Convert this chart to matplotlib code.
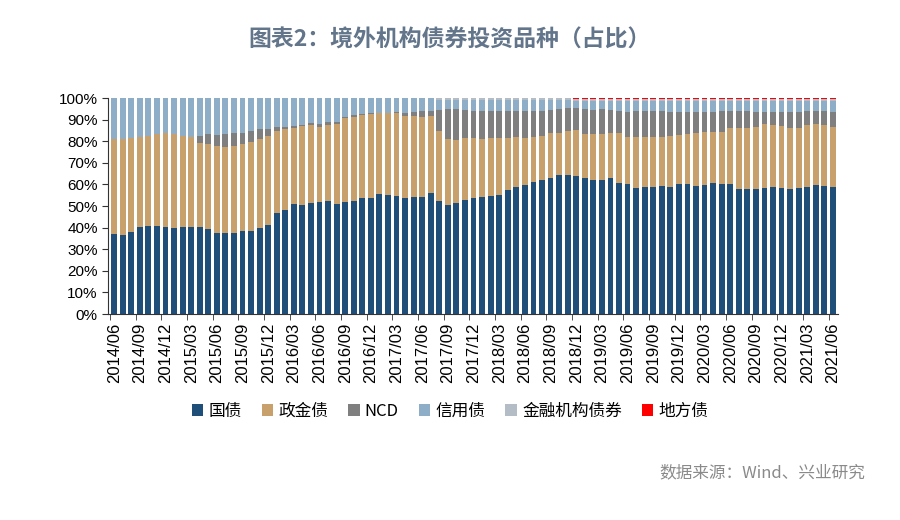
import matplotlib
matplotlib.use('Agg')
import matplotlib.pyplot as plt
import numpy as np

plt.rcParams['font.family'] = ['Noto Sans CJK SC', 'DejaVu Sans']

# 月份 2014/06 - 2021/06
months = [f'{y}/{m:02d}' for y in range(2014, 2022) for m in range(1, 13)]
months = months[months.index('2014/06'):months.index('2021/06') + 1]

# 各品种占比（%）
gz = [36.9, 36.4, 38.1, 40.1, 40.7, 40.9, 40.4, 40.0, 40.1, 40.4,
      40.1, 39.5, 37.3, 37.7, 37.7, 38.4, 38.4, 39.7, 41.2, 46.6,
      48.1, 50.9, 50.6, 51.5, 51.9, 52.2, 51.1, 52.0, 52.3, 53.5,
      53.7, 55.4, 54.9, 54.6, 53.9, 54.0, 54.3, 56.2, 52.3, 50.3,
      51.5, 52.8, 53.5, 54.0, 54.6, 55.1, 57.4, 58.6, 59.6, 61.3,
      62.0, 63.1, 64.5, 64.5, 63.9, 62.8, 62.0, 62.0, 63.1, 60.8,
      60.0, 58.3, 59.0, 59.0, 59.4, 59.0, 60.0, 60.0, 59.4, 59.9,
      60.8, 60.2, 60.2, 58.0, 57.7, 57.7, 58.5, 58.6, 58.3, 57.9,
      58.2, 59.0, 59.7, 59.3, 58.6]
zjz = [44.0, 44.6, 43.4, 42.0, 41.9, 42.3, 43.6, 43.2, 42.5, 41.7,
       38.9, 39.0, 40.5, 39.8, 40.1, 40.1, 41.4, 41.3, 41.2, 38.3,
       37.4, 35.4, 36.4, 35.8, 34.5, 35.3, 36.7, 38.6, 39.1, 38.5,
       38.7, 37.5, 38.0, 38.3, 37.9, 37.8, 37.1, 35.5, 32.6, 30.6,
       29.1, 28.7, 28.1, 26.9, 26.7, 26.2, 24.2, 23.5, 22.0, 20.8,
       20.4, 20.5, 19.5, 20.4, 21.3, 20.4, 21.2, 21.2, 20.5, 22.8,
       22.1, 23.5, 23.1, 23.1, 22.7, 23.4, 22.9, 23.2, 24.2, 24.3,
       23.6, 24.2, 25.8, 28.3, 28.6, 29.0, 29.3, 28.9, 28.7, 28.4,
       28.1, 28.5, 28.1, 28.2, 28.1]
ncd = [0.0, 0.0, 0.0, 0.0, 0.0, 0.0, 0.0, 0.0, 0.0, 0.0,
       3.4, 4.7, 5.1, 5.7, 5.8, 5.5, 5.1, 4.5, 3.1, 1.5,
       0.9, 0.7, 0.5, 1.0, 1.4, 1.2, 1.2, 0.4, 0.7, 0.6,
       0.5, 0.3, 0.3, 0.5, 1.4, 1.7, 2.7, 2.4, 9.5, 13.9,
       14.2, 13.0, 12.5, 13.2, 12.8, 12.8, 12.5, 12.0, 12.5, 12.0,
       11.7, 10.8, 10.8, 10.3, 10.3, 11.8, 11.2, 11.6, 10.8, 10.4,
       11.6, 12.2, 11.9, 11.9, 11.9, 11.3, 10.8, 10.5, 10.1, 9.5,
       9.3, 9.6, 8.0, 7.8, 7.8, 7.0, 5.9, 6.2, 6.7, 7.4,
       7.4, 6.6, 6.3, 6.6, 7.0]
xyz = [19.1, 19.0, 18.5, 17.9, 17.4, 16.8, 16.0, 16.8, 17.4, 17.9,
       17.6, 16.8, 17.1, 16.8, 16.4, 16.0, 15.1, 14.5, 14.5, 13.6,
       13.6, 13.0, 12.5, 11.7, 12.2, 11.3, 11.0, 9.0, 7.9, 7.4,
       7.1, 6.8, 6.8, 6.6, 6.8, 6.5, 5.9, 5.9, 4.6, 4.2,
       4.2, 4.5, 4.9, 4.9, 4.9, 4.9, 4.9, 4.9, 4.9, 4.9,
       4.9, 4.6, 4.2, 3.8, 3.0, 3.5, 4.1, 3.7, 4.1, 4.5,
       4.8, 4.5, 4.5, 4.5, 4.5, 4.8, 4.8, 4.8, 4.8, 4.8,
       4.8, 4.5, 4.5, 4.4, 4.4, 4.8, 4.8, 4.8, 4.8, 4.8,
       4.8, 4.4, 4.4, 4.4, 4.8]
jrz = [0.0] * 38 + [1.0] * 47
dfz = [0.0] * 54 + [0.5] * 31

series = [('国债', gz, '#1f4e79'),
          ('政金债', zjz, '#c8a06c'),
          ('NCD', ncd, '#7f7f7f'),
          ('信用债', xyz, '#8eaec8'),
          ('金融机构债券', jrz, '#b4bcc6'),
          ('地方债', dfz, '#ff0000')]

fig = plt.figure(figsize=(9, 5.2), dpi=100)
ax = fig.add_axes([107.5 / 900, 1 - 314 / 520, (838 - 107.5) / 900, (314 - 98) / 520])

x = np.arange(len(months))
bottom = np.zeros(len(months))
for name, vals, color in series:
    vals = np.array(vals)
    ax.bar(x, vals, bottom=bottom, width=0.68, color=color, label=name, linewidth=0)
    bottom += vals

ax.set_xlim(-0.78, 84.6)
ax.set_ylim(0, 100)
ax.set_yticks(np.arange(0, 101, 10))
ax.set_yticklabels([f'{v}%' for v in range(0, 101, 10)], fontsize=11, family='Liberation Sans')
ax.set_xticks(x[::3])
ax.set_xticklabels(months[::3], rotation=90, fontsize=12, family='Liberation Sans')
ax.tick_params(axis='x', length=0, pad=6)
ax.set_xticks(x[::3] - 0.5, minor=True)
ax.tick_params(axis='x', which='minor', length=4, color='#333333', direction='out')
ax.tick_params(axis='y', length=4, color='#333333', direction='out', pad=3)

for s in ['top', 'right']:
    ax.spines[s].set_visible(False)
ax.spines['left'].set_color('#333333')
ax.spines['bottom'].set_color('#333333')

fig.text(0.5, 1 - 40 / 520, '图表2：境外机构债券投资品种（占比）', ha='center', va='center',
         fontsize=16.5, fontweight='bold', color='#62758a')

fig.legend(loc='center', bbox_to_anchor=(0.5, 1 - 411 / 520), ncol=6, frameon=False,
           handlelength=0.7, handleheight=0.7, handletextpad=0.3, columnspacing=1.2,
           prop={'size': 12})

fig.text(865 / 900, 1 - 473 / 520, '数据来源：Wind、兴业研究', ha='right', va='center',
         fontsize=12, color='#8a8a8a')

fig.savefig('out.png', dpi=100)
